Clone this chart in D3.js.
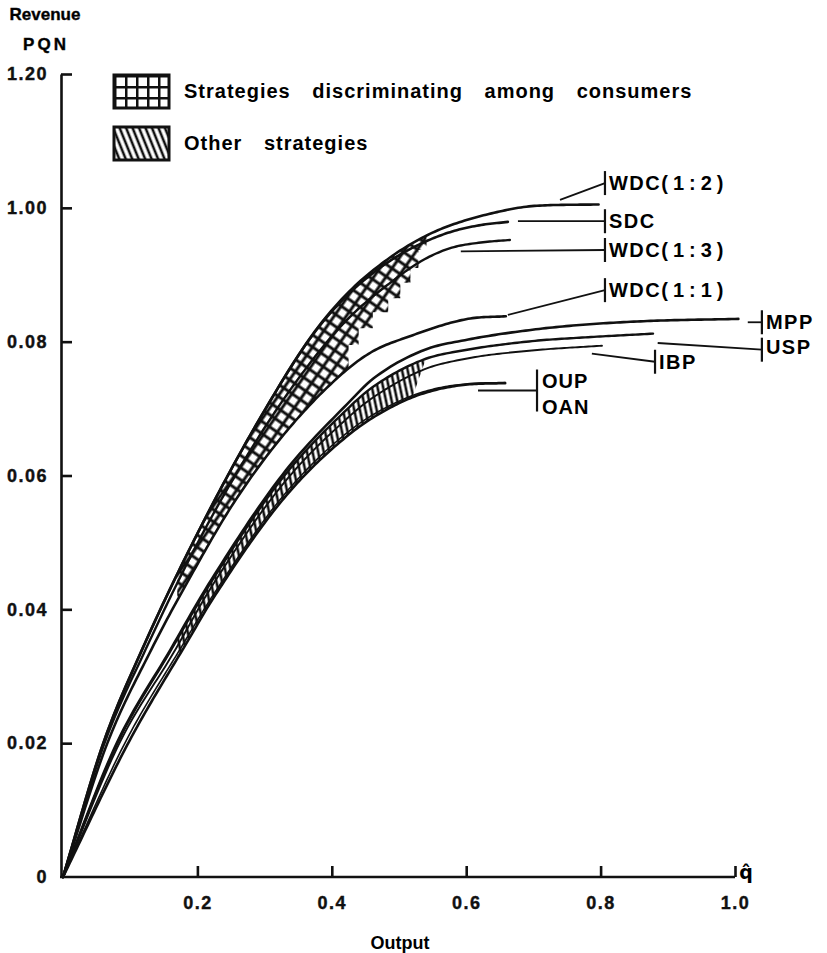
<!DOCTYPE html>
<html>
<head>
<meta charset="utf-8">
<script src="https://cdn.jsdelivr.net/npm/d3@7"></script>
<style>
  body { margin: 0; background: #fff; }
  svg { display: block; font-family: "Liberation Sans", Arial, sans-serif; font-weight: bold; }
</style>
</head>
<body>
<div id="chart"></div>
<script>
// ticks as printed in the original figure
const xTicks = [0.2, 0.4, 0.6, 0.8, 1.0];
const xTickLabels = ["0.2", "0.4", "0.6", "0.8", "1.0"];
const yTicks = [0, 0.02, 0.04, 0.06, 0.08, 0.10, 0.12];
const yTickLabels = ["0", "0.02", "0.04", "0.06", "0.08", "1.00", "1.20"];

// revenue curves: [output, revenue]
const wdc12 = [[0,0],[0.06,0.02],[0.12,0.0345],[0.205,0.0523],[0.294,0.0687],[0.373,0.0813],[0.428,0.0877],[0.487,0.0926],[0.536,0.0956],[0.577,0.0974],[0.652,0.0995],[0.703,0.1003],[0.797,0.1005]];
const sdc   = [[0,0],[0.06,0.02],[0.12,0.0345],[0.205,0.0523],[0.294,0.0687],[0.373,0.0812],[0.428,0.0874],[0.487,0.0921],[0.536,0.0948],[0.577,0.0964],[0.62,0.0974],[0.662,0.0979]];
const wdc13 = [[0,0],[0.061,0.0198],[0.122,0.0338],[0.205,0.0508],[0.294,0.0662],[0.373,0.0775],[0.428,0.0838],[0.487,0.0888],[0.536,0.0922],[0.577,0.094],[0.62,0.0948],[0.665,0.0952]];
const wdc11 = [[0,0],[0.066,0.02],[0.131,0.0339],[0.187,0.0444],[0.254,0.0559],[0.33,0.0663],[0.413,0.075],[0.46,0.0785],[0.513,0.0807],[0.602,0.0834],[0.659,0.0838]];
const mpp   = [[0,0],[0.08,0.02],[0.16,0.034],[0.22,0.0443],[0.328,0.0603],[0.428,0.0712],[0.462,0.0745],[0.536,0.0787],[0.602,0.0803],[0.7,0.0818],[0.77,0.0825],[0.874,0.0831],[1.005,0.0834]];
const usp   = [[0,0],[0.081,0.02],[0.16,0.0338],[0.22,0.044],[0.328,0.0598],[0.428,0.0704],[0.462,0.0733],[0.536,0.0773],[0.602,0.0788],[0.7,0.0801],[0.77,0.0806],[0.878,0.0812]];
const ibp   = [[0,0],[0.084,0.02],[0.165,0.0336],[0.22,0.0432],[0.328,0.0588],[0.428,0.069],[0.462,0.0717],[0.536,0.0758],[0.602,0.0775],[0.7,0.0787],[0.802,0.0794]];
const oan   = [[0,0],[0.092,0.02],[0.18,0.035],[0.22,0.0416],[0.328,0.057],[0.428,0.0668],[0.502,0.0712],[0.551,0.0729],[0.602,0.0737],[0.658,0.0739]];
const oup   = [[0,0],[0.097,0.02],[0.19,0.036],[0.22,0.0411],[0.328,0.0565],[0.428,0.0663],[0.502,0.0709],[0.551,0.0727],[0.602,0.0736],[0.658,0.0738]];

// stepped right edge of the cross-hatched band
const discStairs = [[0.425,0.0755],[0.425,0.0795],[0.44,0.0795],[0.44,0.082],[0.461,0.082],[0.461,0.0844],[0.484,0.0844],[0.484,0.0865],[0.502,0.0865],[0.502,0.0888],[0.517,0.0888],[0.517,0.091],[0.529,0.091],[0.529,0.0937],[0.541,0.0937],[0.541,0.0958]];

// curve labels and their leader lines
const labelNames = ["WDC", "SDC", "WDC", "WDC", "MPP", "USP", "IBP"];
const labelSuffix = ["(1:2)", "", "(1:3)", "(1:1)", "", "", ""];
const leaderFrom = [[0.7396,0.1012],[0.677,0.098],[0.592,0.0935],[0.662,0.084],[1.019,0.0829],[0.885,0.0798],[0.787,0.0782]];
const leaderTo   = [[0.8065,0.1037],[0.8065,0.098],[0.8065,0.0937],[0.8065,0.0877],[1.04,0.0829],[1.04,0.0788],[0.881,0.077]];
const ouLeader = [[0.6176,0.0727],[0.7054,0.0727]];

const width = 827, height = 953;
const svg = d3.select("#chart").append("svg")
  .attr("width", width).attr("height", height);

const x = d3.scaleLinear().domain([0, 1]).range([63, 735]);
const y = d3.scaleLinear().domain([0, 0.12]).range([877, 74]);

// monotone cubic through the read points, so lines and fills share one shape
function smooth(pts) {
  const n = pts.length, xs = pts.map(p => p[0]), ys = pts.map(p => p[1]);
  const d = [], m = [];
  for (let i = 0; i < n - 1; i++) d.push((ys[i+1] - ys[i]) / (xs[i+1] - xs[i]));
  m[0] = d[0]; m[n-1] = d[n-2];
  for (let i = 1; i < n - 1; i++) m[i] = d[i-1] * d[i] <= 0 ? 0 : (d[i-1] + d[i]) / 2;
  for (let i = 0; i < n - 1; i++) {
    if (d[i] === 0) { m[i] = m[i+1] = 0; continue; }
    const a = m[i] / d[i], b = m[i+1] / d[i], s = a*a + b*b;
    if (s > 9) { const t = 3 / Math.sqrt(s); m[i] = t*a*d[i]; m[i+1] = t*b*d[i]; }
  }
  return v => {
    let i = Math.max(0, Math.min(n - 2, d3.bisectRight(xs, v) - 1));
    const h = xs[i+1] - xs[i], t = (v - xs[i]) / h, t2 = t*t, t3 = t2*t;
    return (2*t3 - 3*t2 + 1)*ys[i] + (t3 - 2*t2 + t)*h*m[i] + (-2*t3 + 3*t2)*ys[i+1] + (t3 - t2)*h*m[i+1];
  };
}
function sample(pts, x0, x1, n = 160) {
  const f = smooth(pts);
  return d3.range(n + 1).map(i => { const v = x0 + (x1 - x0) * i / n; return [v, f(v)]; });
}
const line = d3.line().x(d => x(d[0])).y(d => y(d[1]));

// patterns
const defs = svg.append("defs");
const cross = defs.append("pattern").attr("id", "cross")
  .attr("patternUnits", "userSpaceOnUse").attr("width", 10).attr("height", 10)
  .attr("patternTransform", "rotate(35)");
cross.append("path").attr("d", "M0,5H10M5,0V10").attr("stroke", "#111").attr("stroke-width", 3);

const grid = defs.append("pattern").attr("id", "grid")
  .attr("patternUnits", "userSpaceOnUse").attr("width", 11).attr("height", 11)
  .attr("x", 114).attr("y", 75);
grid.append("path").attr("d", "M0,0H11M0,0V11").attr("stroke", "#111").attr("stroke-width", 5);

const hatch = defs.append("pattern").attr("id", "hatch")
  .attr("patternUnits", "userSpaceOnUse").attr("width", 5.5).attr("height", 20)
  .attr("patternTransform", "rotate(-12)");
hatch.append("path").attr("d", "M2.75,0V20").attr("stroke", "#111").attr("stroke-width", 2.6);

const slant = defs.append("pattern").attr("id", "slant")
  .attr("patternUnits", "userSpaceOnUse").attr("width", 6).attr("height", 40)
  .attr("patternTransform", "rotate(-22)");
slant.append("path").attr("d", "M3,0V40").attr("stroke", "#111").attr("stroke-width", 2.6);

// cross-hatched band: strategies discriminating among consumers
const discX0 = 0.17, stairX = discStairs[0][0], discX1 = discStairs[discStairs.length - 1][0];
const discPoly = sample(wdc12, discX0, discX1)
  .concat(discStairs.slice().reverse())
  .concat(sample(wdc11, discX0, stairX).reverse());
svg.append("path").attr("d", line(discPoly) + "Z").attr("fill", "url(#cross)");

// hatched band: other strategies
const othX0 = 0.17, othX1 = 0.54, othX1Low = 0.52;
const othPoly = sample(usp, othX0, othX1).concat(sample(oup, othX0, othX1Low).reverse());
svg.append("path").attr("d", line(othPoly) + "Z").attr("fill", "url(#hatch)");

// curves (inner lines of the lower bundle drawn a little thinner)
const curves = [wdc12, sdc, wdc13, wdc11, mpp, usp, ibp, oan, oup];
const curveWidths = [2.6, 2.6, 2.4, 2.6, 2.6, 2.4, 1.9, 1.6, 2.6];
svg.append("g").selectAll("path")
  .data(curves)
  .join("path")
    .attr("d", c => line(sample(c, 0, c[c.length - 1][0], 200)))
    .attr("fill", "none")
    .attr("stroke", "#111")
    .attr("stroke-width", (c, i) => curveWidths[i])
    .attr("stroke-linecap", "round");

// axes
const xAxis = svg.append("g")
  .attr("transform", `translate(0, ${y(0)})`)
  .call(d3.axisBottom(x).tickValues(xTicks).tickFormat((d, i) => xTickLabels[i])
    .tickSizeInner(-11).tickSizeOuter(0).tickPadding(19));
const yAxis = svg.append("g")
  .attr("transform", `translate(${x(0) - 2}, 0)`)
  .call(d3.axisLeft(y).tickValues(yTicks).tickFormat((d, i) => yTickLabels[i])
    .tickSizeInner(-11).tickSizeOuter(0).tickPadding(13));
[xAxis, yAxis].forEach(a => {
  a.attr("font-family", null).attr("font-size", null);
  a.selectAll("path, line").attr("stroke", "#111").attr("stroke-width", 2.6);
  a.selectAll("text").attr("fill", "#111").attr("stroke", "#111").attr("stroke-width", 0.4)
    .style("font-size", "18px").style("letter-spacing", "1.5px");
});
xAxis.select(".domain").attr("d", `M${x(0) - 3},0H${x(1)}`);
yAxis.selectAll(".tick").filter(d => d === 0).select("line").remove();

// axis titles
svg.append("text").attr("x", 45).attr("y", 20).attr("text-anchor", "middle")
  .attr("stroke", "#111").attr("stroke-width", 0.4)
  .style("font-size", "17px").text("Revenue");
svg.append("text").attr("x", 46).attr("y", 50).attr("text-anchor", "middle")
  .attr("stroke", "#111").attr("stroke-width", 0.4)
  .style("font-size", "17px").style("letter-spacing", "3px").text("PQN");
svg.append("text").attr("x", 400).attr("y", 949).attr("text-anchor", "middle")
  .style("font-size", "18px").text("Output");
svg.append("text").attr("x", x(1) + 11).attr("y", y(0) + 2).attr("text-anchor", "middle")
  .style("font-family", "'DejaVu Sans', sans-serif").style("font-size", "19px").text("q\u0302");

// legend
const legend = svg.append("g");
legend.append("rect").attr("x", 114).attr("y", 75).attr("width", 55).attr("height", 33)
  .attr("fill", "url(#grid)").attr("stroke", "#111").attr("stroke-width", 3);
legend.append("rect").attr("x", 114).attr("y", 127).attr("width", 55).attr("height", 33)
  .attr("fill", "url(#slant)").attr("stroke", "#111").attr("stroke-width", 3);
legend.append("text").attr("x", 184).attr("y", 98)
  .style("font-size", "20px").style("letter-spacing", "1px").style("word-spacing", "15px")
  .text("Strategies discriminating among consumers");
legend.append("text").attr("x", 184).attr("y", 150)
  .style("font-size", "20px").style("letter-spacing", "1px").style("word-spacing", "15px")
  .text("Other strategies");

// leaders, end bars and labels
const ann = svg.append("g").attr("stroke", "#111").attr("stroke-width", 1.8);
leaderFrom.forEach((p, i) => {
  const q = leaderTo[i];
  ann.append("line").attr("x1", x(p[0])).attr("y1", y(p[1])).attr("x2", x(q[0])).attr("y2", y(q[1]));
  ann.append("line").attr("x1", x(q[0])).attr("y1", y(q[1]) - 12).attr("x2", x(q[0])).attr("y2", y(q[1]) + 12)
    .attr("stroke-width", 2.2);
  const t = svg.append("text").attr("x", x(q[0]) + 4).attr("y", y(q[1]) + (i === 5 ? 4 : 7))
    .style("font-size", "20px").style("letter-spacing", "1.5px");
  t.append("tspan").text(labelNames[i]);
  if (labelSuffix[i]) t.append("tspan").style("letter-spacing", "5px").text(labelSuffix[i]);
});
ann.append("line").attr("x1", x(ouLeader[0][0])).attr("y1", y(ouLeader[0][1]))
  .attr("x2", x(ouLeader[1][0])).attr("y2", y(ouLeader[1][1]));
ann.append("line").attr("x1", x(ouLeader[1][0])).attr("y1", y(ouLeader[1][1]) - 21)
  .attr("x2", x(ouLeader[1][0])).attr("y2", y(ouLeader[1][1]) + 21).attr("stroke-width", 2.2);
svg.append("text").attr("x", x(ouLeader[1][0]) + 5).attr("y", y(ouLeader[1][1]) - 3)
  .style("font-size", "20px").style("letter-spacing", "1px").text("OUP");
svg.append("text").attr("x", x(ouLeader[1][0]) + 5).attr("y", y(ouLeader[1][1]) + 23)
  .style("font-size", "20px").style("letter-spacing", "1px").text("OAN");
</script>
</body>
</html>
